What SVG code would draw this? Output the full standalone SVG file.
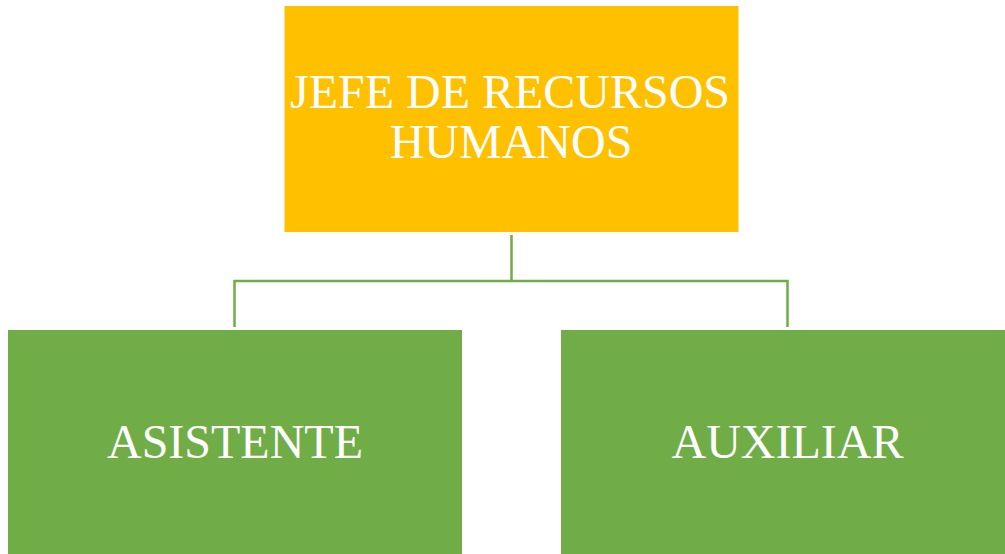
<svg xmlns="http://www.w3.org/2000/svg" width="1005" height="554" viewBox="0 0 1005 554">
<style>
.lbl{font-family:"Liberation Serif","Times New Roman",serif;font-size:48px;fill:#ffffff;text-anchor:middle}
.conn{stroke:#70AD47;stroke-width:2.5;fill:none}
</style>
<rect width="1005" height="554" fill="#ffffff"/>
<g id="connectors">
<path class="conn" d="M511.5 235 V281 M234.5 327 V281 H787.5 V327"/>
</g>
<g id="jefe">
<rect x="284.5" y="6" width="454" height="226" fill="#FFC000"/>
<text class="lbl" x="510" y="108">JEFE DE RECURSOS</text>
<text class="lbl" x="511" y="158">HUMANOS</text>
</g>
<g id="asistente">
<rect x="8" y="330" width="454" height="230" fill="#70AD47"/>
<text class="lbl" x="235" y="458">ASISTENTE</text>
</g>
<g id="auxiliar">
<rect x="561" y="330" width="454" height="230" fill="#70AD47"/>
<text class="lbl" x="787.5" y="458">AUXILIAR</text>
</g>
</svg>
